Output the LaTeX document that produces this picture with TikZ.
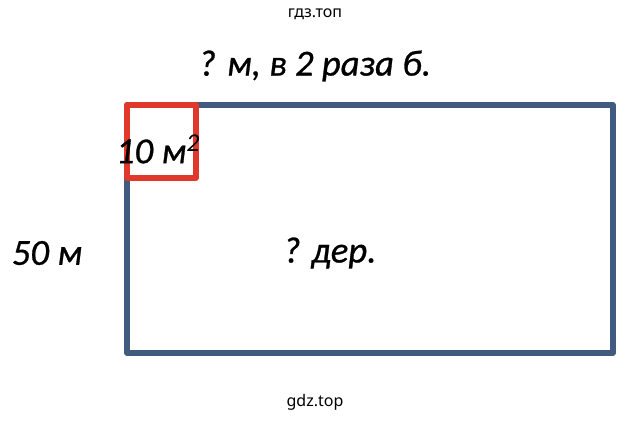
\documentclass[tikz,border=0pt]{standalone}
\usepackage{fontspec}
\setmainfont{Carlito}
\newfontfamily\lblfont[FakeBold=0.8]{Carlito}
\newfontfamily\markfont{Noto Sans}
\definecolor{fieldblue}{HTML}{415B80}
\definecolor{plotred}{HTML}{E0392B}

\def\fieldrect{(127,105) rectangle (613,353)}
\def\plotsquare{(127,105) rectangle (196,178)}

\begin{document}
\begin{tikzpicture}[x=0.75pt,y=-0.75pt,
    lbl/.style={font=\lblfont\fontsize{27.5}{32}\selectfont\itshape, inner sep=0pt},
    wmark/.style={font=\markfont\fontsize{12}{14}\selectfont, inner sep=0pt}]
    \useasboundingbox (0,0) rectangle (632,421);

    \draw[fieldblue, line width=4pt, line join=round] \fieldrect;
    \draw[plotred, line width=4pt, line join=round] \plotsquare;

    \node[wmark] (topmark) at (315,14) {гдз.топ};
    \node[wmark] (botmark) at (315,402) {gdz.top};

    \node[lbl] (width) at (315,66) {? м, в 2 раза б.};
    \node[lbl] (area) at (158,149) {10 м$^{\mathit 2}$};
    \node[lbl] (height) at (47,253) {50 м};
    \node[lbl] (trees) at (330,253) {? дер.};

  \end{tikzpicture}
\end{document}
